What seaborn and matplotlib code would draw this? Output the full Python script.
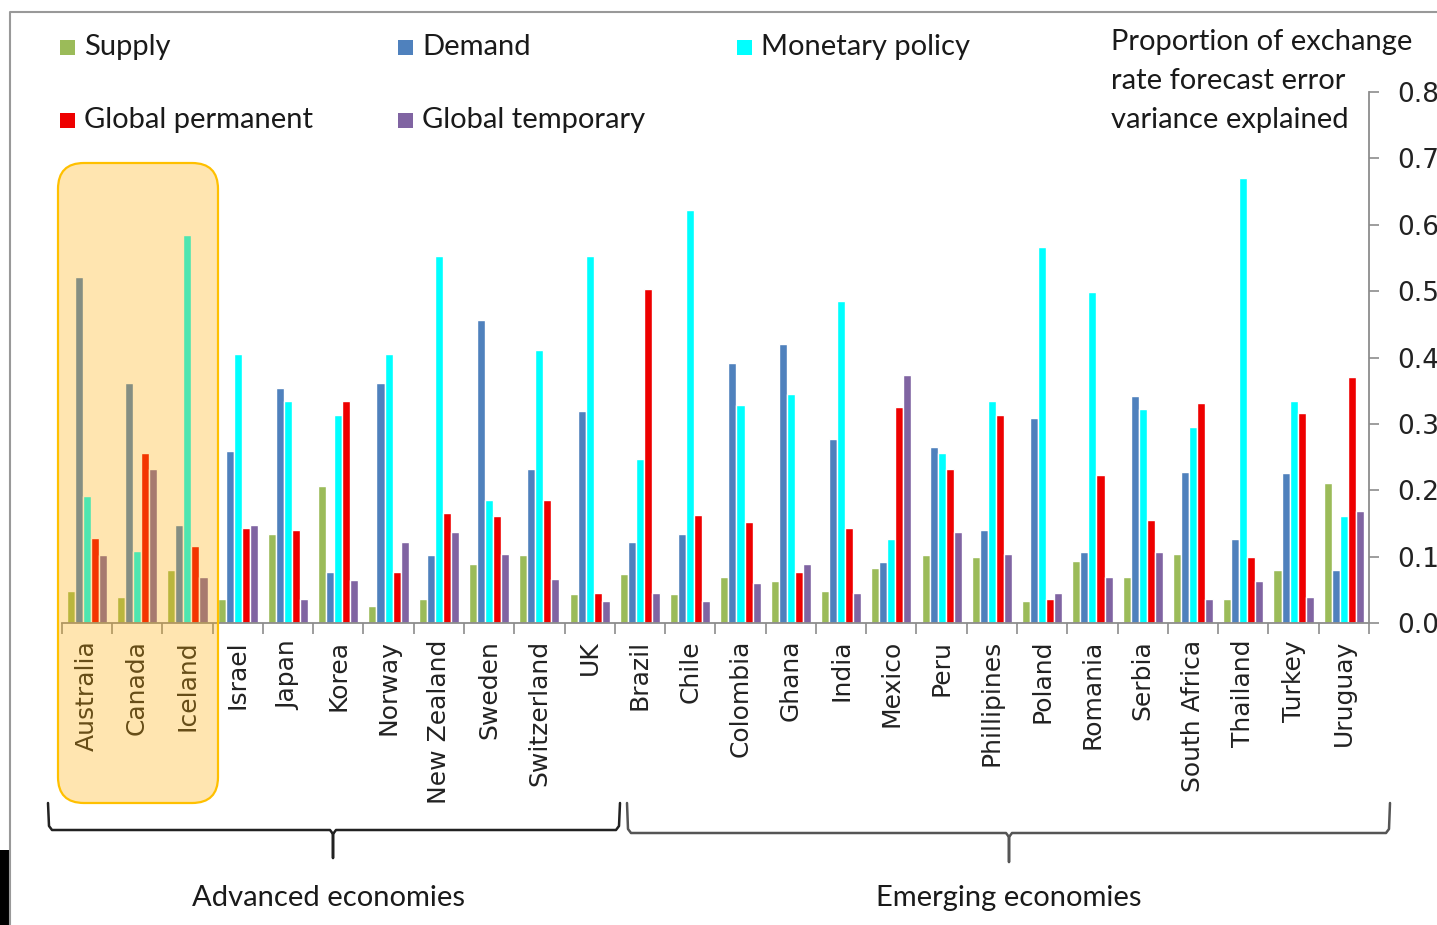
import numpy as np
import pandas as pd
import matplotlib
matplotlib.use("Agg")
import matplotlib.pyplot as plt
import seaborn as sns
from matplotlib.patches import FancyBboxPatch, Rectangle
from matplotlib.lines import Line2D
from matplotlib.transforms import IdentityTransform

countries = ["Australia", "Canada", "Iceland", "Israel", "Japan", "Korea", "Norway",
             "New Zealand", "Sweden", "Switzerland", "UK", "Brazil", "Chile", "Colombia",
             "Ghana", "India", "Mexico", "Peru", "Phillipines", "Poland", "Romania",
             "Serbia", "South Africa", "Thailand", "Turkey", "Uruguay"]
series_names = ["Supply", "Demand", "Monetary policy", "Global permanent", "Global temporary"]
supply = [0.049, 0.040, 0.080, 0.037, 0.134, 0.206, 0.026, 0.037, 0.089, 0.103, 0.044, 0.074, 0.044,
          0.069, 0.063, 0.049, 0.083, 0.103, 0.100, 0.034, 0.094, 0.069, 0.105, 0.037, 0.080, 0.212]
demand = [0.522, 0.362, 0.148, 0.259, 0.354, 0.077, 0.362, 0.103, 0.457, 0.232, 0.320, 0.123, 0.134,
          0.392, 0.420, 0.277, 0.092, 0.266, 0.140, 0.309, 0.108, 0.342, 0.228, 0.127, 0.226, 0.080]
monetary = [0.191, 0.109, 0.585, 0.405, 0.334, 0.314, 0.405, 0.553, 0.186, 0.412, 0.553, 0.248, 0.622,
            0.329, 0.345, 0.485, 0.127, 0.257, 0.334, 0.567, 0.499, 0.323, 0.295, 0.671, 0.334, 0.162]
global_perm = [0.129, 0.257, 0.117, 0.143, 0.140, 0.334, 0.077, 0.166, 0.161, 0.186, 0.046, 0.503, 0.163,
               0.152, 0.077, 0.143, 0.326, 0.232, 0.314, 0.037, 0.223, 0.155, 0.331, 0.100, 0.317, 0.371]
global_temp = [0.103, 0.232, 0.069, 0.148, 0.037, 0.065, 0.123, 0.137, 0.105, 0.066, 0.034, 0.046, 0.034,
               0.060, 0.089, 0.046, 0.374, 0.137, 0.105, 0.046, 0.069, 0.108, 0.037, 0.063, 0.040, 0.169]
y_ticks = [0.0, 0.1, 0.2, 0.3, 0.4, 0.5, 0.6, 0.7, 0.8]
title_lines = ["Proportion of exchange", "rate forecast error", "variance explained"]
groups = ["Advanced economies", "Emerging economies"]

colors = ["#9bbb59", "#4f81bd", "#00ffff", "#ee0000", "#8064a2"]

rows = []
for name, vals in zip(series_names, [supply, demand, monetary, global_perm, global_temp]):
    for c, v in zip(countries, vals):
        rows.append({"country": c, "series": name, "value": v})
df = pd.DataFrame(rows)

sns.set_style("white")
plt.rcParams["font.family"] = ["DejaVu Sans"]

W, H = 1437, 925
fig = plt.figure(figsize=(W / 100, H / 100), dpi=100)
ax = fig.add_axes([61.7 / W, 1 - 623.3 / H, (1369 - 61.7) / W, (623.3 - 92) / H])

sns.barplot(data=df, x="country", y="value", hue="series", hue_order=series_names,
            order=countries, palette=colors, errorbar=None, width=0.8, legend=False,
            saturation=1, ax=ax)

ax.set_xlim(-0.5, len(countries) - 0.5)
ax.set_ylim(0, 0.8)
ax.set_xlabel("")
ax.set_ylabel("")
for s in ["left", "top"]:
    ax.spines[s].set_visible(False)
for s in ["bottom", "right"]:
    ax.spines[s].set_color("#8c8c8c")
    ax.spines[s].set_linewidth(1.3)

ax.yaxis.tick_right()
ax.set_yticks(y_ticks)
ax.set_yticklabels([f"{v:.1f}" for v in y_ticks], fontsize=19, color="#222222")
ax.tick_params(axis="y", direction="out", length=7, width=1.2, color="#8c8c8c", pad=13, right=True, left=False)

ax.set_xticks(range(len(countries)))
ax.set_xticklabels(countries, rotation=90, fontsize=18, color="#222222", va="top")
ax.set_xticks(np.arange(-0.5, len(countries), 1.0), minor=True)
ax.tick_params(axis="x", which="major", length=0, pad=12)
ax.tick_params(axis="x", which="minor", length=8, width=1.2, color="#8c8c8c", bottom=True)

px = IdentityTransform()

def fy(y):
    return H - y

# Legend (manual)
leg_font = dict(family="Lato", fontsize=21, color="#1a1a1a")
legend_pos = [(60, 47), (398, 47), (737, 47), (60, 120), (398, 120)]
for (lx, ly), name, col in zip(legend_pos, series_names, colors):
    fig.add_artist(Rectangle((lx, fy(ly) - 8), 15, 15, facecolor=col, edgecolor="none", transform=px))
    fig.text((lx + 24) / W, 1 - ly / H, name, ha="left", va="center", **leg_font)

for line, ty in zip(title_lines, [42, 81, 120]):
    fig.text(1111 / W, 1 - ty / H, line, ha="left", va="center", **leg_font)

# Highlight box over first three countries
fig.add_artist(FancyBboxPatch((58, fy(803)), 160, 640, boxstyle="round,pad=0,rounding_size=26",
                              facecolor=(1.0, 0.68, 0.0), alpha=0.31, edgecolor="none",
                              transform=px, zorder=10))
fig.add_artist(FancyBboxPatch((58, fy(803)), 160, 640, boxstyle="round,pad=0,rounding_size=26",
                              facecolor="none", edgecolor="#ffc000", linewidth=1.6,
                              transform=px, zorder=11))

# Braces
def brace(x0, x1, xc, top, h, tip, color):
    xs = [x0, x0 + 1, x0 + 4, xc - 3, xc, xc, xc, xc + 3, x1 - 4, x1 - 1, x1]
    ys = [top, h - 4, h, h, h + 4, tip, h + 4, h, h, h - 4, top]
    fig.add_artist(Line2D(xs, [fy(v) for v in ys], color=color, linewidth=1.8, transform=px,
                          solid_joinstyle="round"))

brace(48, 620, 333, 803, 830, 858, "#222222")
brace(627, 1390, 1009, 803, 833, 862, "#555555")

fig.text(328 / W, 1 - 898 / H, groups[0], ha="center", va="center", **leg_font)
fig.text(1009 / W, 1 - 898 / H, groups[1], ha="center", va="center", **leg_font)

# Outer frame
fig.add_artist(Line2D([10, 10, W], [0, fy(12), fy(12)], color="#999999", linewidth=1.5, transform=px))
fig.add_artist(Rectangle((0, 0), 9, 75, facecolor="black", edgecolor="none", transform=px))

fig.savefig("out.png", dpi=100)
